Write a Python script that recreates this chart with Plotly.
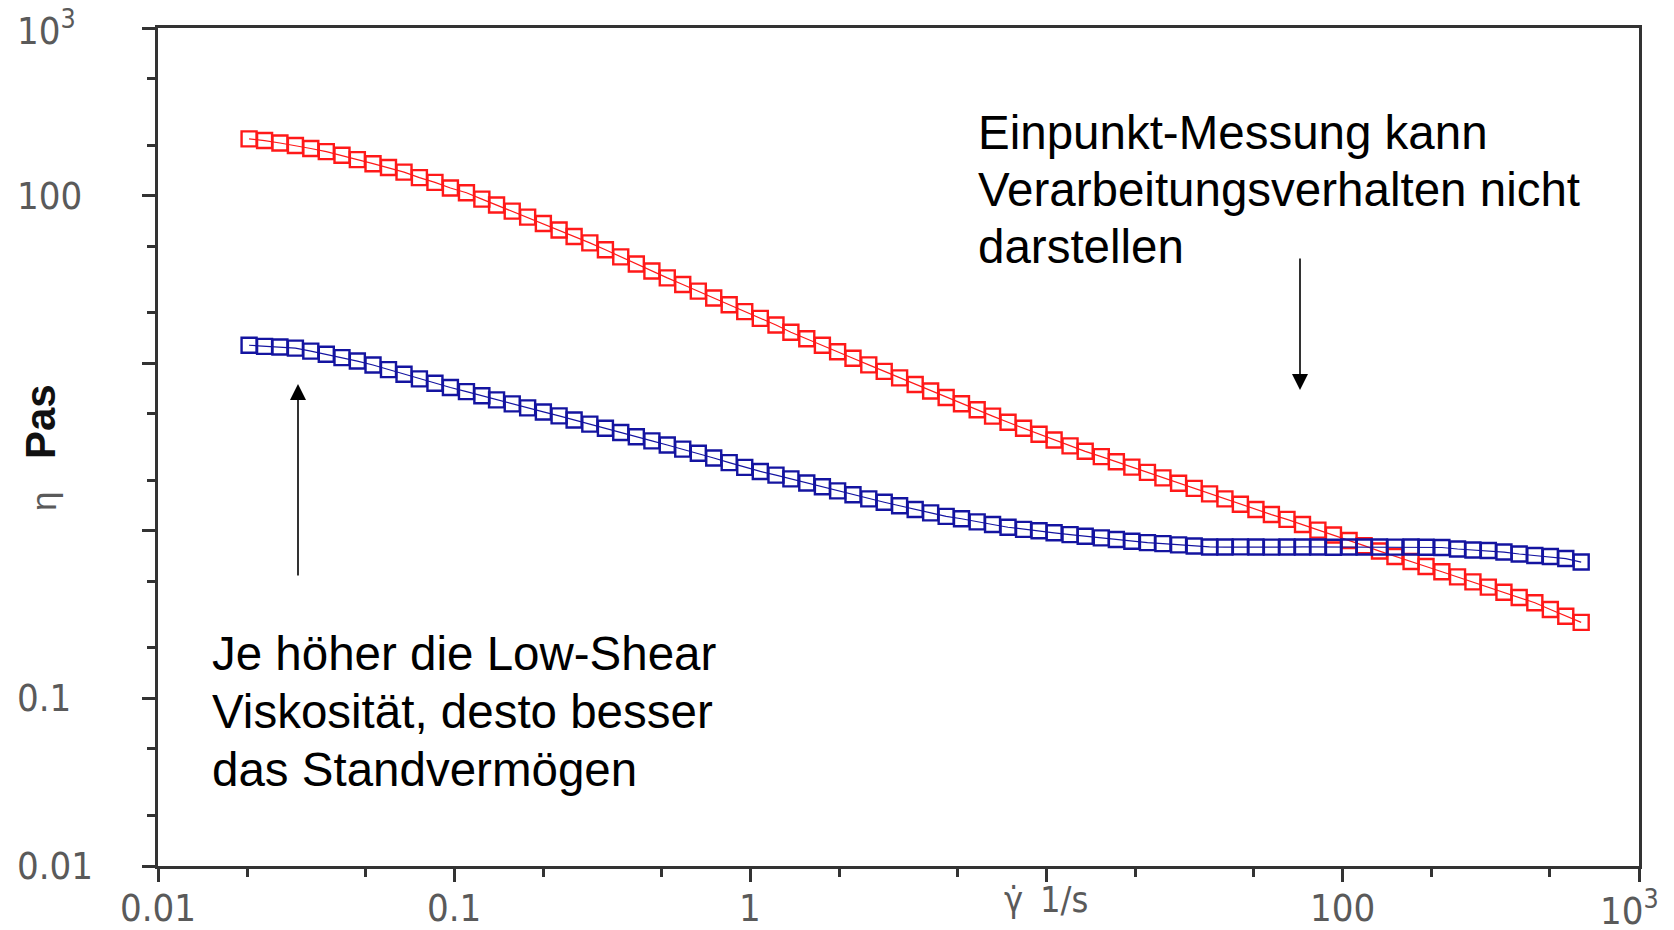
import numpy as np
import plotly.graph_objects as go

# ---- data ----
shear_rate = [0.0203, 0.0229, 0.0258, 0.0291, 0.0328, 0.0370, 0.0418, 0.0471, 0.0532, 0.0600,
              0.0677, 0.0763, 0.0861, 0.0971, 0.110, 0.124, 0.139, 0.157, 0.177, 0.200,
              0.226, 0.254, 0.287, 0.324, 0.365, 0.412, 0.465, 0.524, 0.591, 0.667,
              0.752, 0.848, 0.957, 1.08, 1.22, 1.37, 1.55, 1.75, 1.97, 2.22,
              2.51, 2.83, 3.19, 3.60, 4.06, 4.58, 5.16, 5.83, 6.57, 7.41,
              8.36, 9.43, 10.6, 12.0, 13.5, 15.3, 17.2, 19.4, 21.9, 24.7,
              27.9, 31.5, 35.5, 40.0, 45.1, 50.9, 57.4, 64.8, 73.1, 82.4,
              93.0, 105, 118, 133, 150, 170, 191, 216, 244, 275,
              310, 350, 394, 445, 502, 566, 638]

eta_red = [218, 213, 206, 199, 191, 183, 174, 164, 155, 147,
           138, 128, 120, 111, 104, 95.3, 87.8, 80.8, 74.4, 68.1,
           62.3, 57.0, 52.2, 47.5, 43.1, 39.1, 35.5, 32.3, 29.5, 26.9,
           24.5, 22.3, 20.3, 18.5, 16.9, 15.3, 14.0, 12.8, 11.7, 10.7,
           9.77, 8.94, 8.17, 7.46, 6.83, 6.24, 5.73, 5.27, 4.83, 4.44,
           4.09, 3.77, 3.48, 3.21, 2.98, 2.77, 2.58, 2.40, 2.23, 2.07,
           1.92, 1.79, 1.66, 1.55, 1.44, 1.34, 1.25, 1.17, 1.09, 1.01,
           0.943, 0.876, 0.815, 0.757, 0.703, 0.656, 0.612, 0.570, 0.531, 0.496,
           0.461, 0.430, 0.400, 0.372, 0.339, 0.309, 0.284]

eta_blue = [12.8, 12.6, 12.5, 12.3, 11.8, 11.3, 10.8, 10.3, 9.76, 9.16,
            8.60, 8.06, 7.59, 7.16, 6.77, 6.39, 6.04, 5.72, 5.41, 5.12,
            4.85, 4.58, 4.33, 4.09, 3.86, 3.64, 3.44, 3.25, 3.07, 2.90,
            2.72, 2.55, 2.39, 2.26, 2.15, 2.04, 1.93, 1.83, 1.73, 1.64,
            1.55, 1.48, 1.41, 1.34, 1.28, 1.22, 1.18, 1.13, 1.09, 1.05,
            1.02, 1.00, 0.973, 0.949, 0.927, 0.907, 0.887, 0.867, 0.850, 0.838,
            0.824, 0.812, 0.801, 0.800, 0.802, 0.800, 0.799, 0.800, 0.801, 0.800,
            0.798, 0.800, 0.801, 0.800, 0.799, 0.800, 0.797, 0.795, 0.779, 0.768,
            0.763, 0.747, 0.727, 0.712, 0.702, 0.683, 0.651]

x_tick_vals = [0.01, 0.1, 1, 10, 100, 1000]
x_label_vals = [0.01, 0.1, 1, 100, 1000]
x_label_text = ["0.01", "0.1", "1", "100", "10<sup>3</sup>"]
x_minor_vals = [0.02, 0.05, 0.2, 0.5, 2, 5, 20, 50, 200, 500]

y_tick_vals = [0.01, 0.1, 1, 10, 100, 1000]
y_label_vals = [0.01, 0.1, 100, 1000]
y_label_text = ["0.01", "0.1", "100", "10<sup>3</sup>"]
y_minor_vals = [0.02, 0.05, 0.2, 0.5, 2, 5, 20, 50, 200, 500]

text_right = ["Einpunkt-Messung kann", "Verarbeitungsverhalten nicht", "darstellen"]
text_left = ["Je höher die Low-Shear", "Viskosität, desto besser", "das Standvermögen"]

# ---- layout geometry (pixels) ----
W, H = 1674, 930
ML, MR, MT, MB = 158, 35, 28, 64
PW, PH = W - ML - MR, H - MT - MB


def px(xp):
    return (xp - ML) / PW


def py(yp):
    return 1 - (yp - MT) / PH


NARROW = "DejaVu Sans Condensed, DejaVu Sans, sans-serif"
SANS = "Liberation Sans, Arial, sans-serif"
AX = "#333333"
LBL = "#5a5a5a"
RED = "rgb(255,25,25)"
BLUE = "rgb(20,20,160)"

fig = go.Figure()
fig.add_trace(go.Scatter(
    x=shear_rate, y=eta_red, mode="lines+markers",
    line=dict(color=RED, width=1.2),
    marker=dict(symbol="square-open", size=15, color=RED, line=dict(width=2.4, color=RED)),
    showlegend=False))
fig.add_trace(go.Scatter(
    x=shear_rate, y=eta_blue, mode="lines+markers",
    line=dict(color=BLUE, width=1.2),
    marker=dict(symbol="square-open", size=15, color=BLUE, line=dict(width=2.4, color=BLUE)),
    showlegend=False))

annotations = []
# y tick labels, left aligned like the reference
for v, t in zip(y_label_vals, y_label_text):
    annotations.append(dict(xref="paper", yref="y", x=px(15), y=np.log10(v), text=t,
                            xanchor="left", yanchor="middle", showarrow=False,
                            font=dict(family=NARROW, size=38, color=LBL)))
# x tick labels
for v, t in zip(x_label_vals, x_label_text):
    annotations.append(dict(xref="x", yref="paper", x=np.log10(v), y=py(908), text=t,
                            xanchor="center", yanchor="middle", showarrow=False,
                            xshift=-10 if v == 1000 else 0,
                            font=dict(family=NARROW, size=38, color=LBL)))

# axis titles
annotations.append(dict(xref="paper", yref="paper", x=px(40), y=py(422), text="<b>Pas</b>",
                        textangle=-90, xanchor="center", yanchor="middle", showarrow=False,
                        font=dict(family=SANS, size=42, color="#111111")))
annotations.append(dict(xref="paper", yref="paper", x=px(43), y=py(501), text="η",
                        textangle=-90, xanchor="center", yanchor="middle", showarrow=False,
                        font=dict(family=SANS, size=35, color=LBL)))
annotations.append(dict(xref="paper", yref="paper", x=px(1013), y=py(899), text="γ̇",
                        xanchor="center", yanchor="middle", showarrow=False,
                        font=dict(family=NARROW, size=36, color=LBL)))
annotations.append(dict(xref="paper", yref="paper", x=px(1038), y=py(899), text="1/s",
                        xanchor="left", yanchor="middle", showarrow=False,
                        font=dict(family=NARROW, size=36, color=LBL)))

# text blocks
for t, yc in zip(text_right, [132, 189.5, 247]):
    annotations.append(dict(xref="paper", yref="paper", x=px(976), y=py(yc), text=t,
                            xanchor="left", yanchor="middle", showarrow=False,
                            font=dict(family=SANS, size=47.5, color="black")))
for t, yc in zip(text_left, [653, 711, 769]):
    annotations.append(dict(xref="paper", yref="paper", x=px(210), y=py(yc), text=t,
                            xanchor="left", yanchor="middle", showarrow=False,
                            font=dict(family=SANS, size=47.5, color="black")))

# arrows
annotations.append(dict(xref="paper", yref="paper", x=px(1300), y=py(390), ax=0, ay=-133,
                        text="", showarrow=True, arrowhead=2, arrowsize=2.0, arrowwidth=1.6,
                        arrowcolor="black"))
annotations.append(dict(xref="paper", yref="paper", x=px(298), y=py(384), ax=0, ay=193,
                        text="", showarrow=True, arrowhead=2, arrowsize=2.0, arrowwidth=1.6,
                        arrowcolor="black"))

axis_common = dict(type="log", range=[-2, 3], showline=True, mirror=True, linecolor=AX,
                   linewidth=2.5, ticks="outside", ticklen=13, tickwidth=2.5, tickcolor=AX,
                   showgrid=False, zeroline=False, automargin=False, showticklabels=False,
                   minor=dict(ticks="outside", ticklen=8, tickwidth=2.5, tickcolor=AX,
                              showgrid=False))

fig.update_layout(
    width=W, height=H, autosize=False,
    margin=dict(l=ML, r=MR, t=MT, b=MB, pad=0),
    paper_bgcolor="white", plot_bgcolor="white",
    xaxis=dict(**axis_common, tickvals=x_tick_vals),
    yaxis=dict(**axis_common, tickvals=y_tick_vals),
    annotations=annotations,
)
fig.update_xaxes(minor_tickvals=x_minor_vals)
fig.update_yaxes(minor_tickvals=y_minor_vals)

fig.write_html("out.html")
